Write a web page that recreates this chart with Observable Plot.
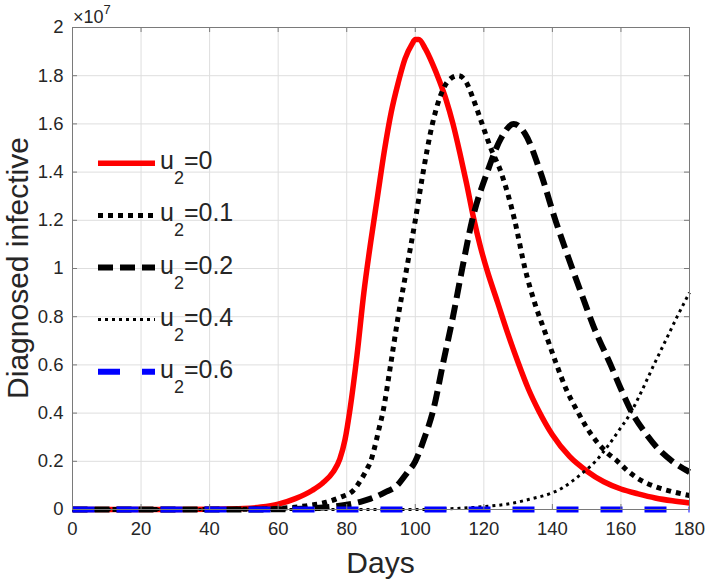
<!DOCTYPE html>
<html><head><meta charset="utf-8">
<script src="https://cdn.jsdelivr.net/npm/d3@7"></script>
<script src="https://cdn.jsdelivr.net/npm/@observablehq/plot@0.6"></script>
<style>body{margin:0;background:#fff} svg{display:block}</style>
</head><body><div id="chart"></div>
<script>
// Tick values and labels
const xTicks = [0, 20, 40, 60, 80, 100, 120, 140, 160, 180];
const yTicks = [0, 0.2, 0.4, 0.6, 0.8, 1, 1.2, 1.4, 1.6, 1.8, 2];
const yTickLabels = ["0", "0.2", "0.4", "0.6", "0.8", "1", "1.2", "1.4", "1.6", "1.8", "2"];

// Series names (u2 values)
const seriesU2 = ["0", "0.1", "0.2", "0.4", "0.6"];

// Diagnosed infective (×10^7)
const days0 = [0, 10, 20, 30, 40, 50, 55, 60, 65, 70, 73, 76, 78, 79.5, 81, 83, 85, 87, 89, 91, 93, 95, 97, 99, 100, 101, 103, 105, 107, 109, 111, 113, 115, 117, 119, 121, 124, 127, 130, 133, 136, 140, 145, 150, 155, 160, 165, 170, 175, 180];
const vals0 = [0, 0, 0, 0, 0.001, 0.004, 0.01, 0.022, 0.045, 0.08, 0.11, 0.155, 0.21, 0.29, 0.42, 0.64, 0.9, 1.11, 1.3, 1.49, 1.65, 1.77, 1.87, 1.93, 1.95, 1.95, 1.91, 1.85, 1.78, 1.7, 1.6, 1.48, 1.35, 1.21, 1.09, 0.99, 0.86, 0.73, 0.61, 0.5, 0.41, 0.31, 0.22, 0.16, 0.115, 0.085, 0.065, 0.048, 0.036, 0.027];

const days1 = [0, 10, 20, 30, 40, 50, 55, 62, 68, 74, 78, 82, 84, 86, 87, 88, 89.5, 90.5, 92.8, 95, 97.5, 100, 102.3, 105, 108, 110.5, 112.6, 115, 117, 119.5, 122, 125, 129, 132, 135, 138, 141, 144, 147.6, 150, 153, 156, 159, 162, 166, 170, 175, 180];
const vals1 = [0, 0, 0, 0, 0, 0.001, 0.002, 0.006, 0.015, 0.03, 0.05, 0.08, 0.12, 0.17, 0.2, 0.25, 0.34, 0.4, 0.6, 0.8, 1.0, 1.2, 1.4, 1.6, 1.74, 1.79, 1.8, 1.77, 1.7, 1.6, 1.5, 1.4, 1.2, 1.0, 0.85, 0.73, 0.61, 0.5, 0.4, 0.34, 0.28, 0.235, 0.2, 0.16, 0.12, 0.095, 0.074, 0.058];

const days2 = [0, 10, 20, 30, 40, 50, 60, 65, 70, 75, 80, 84, 87, 91, 94.7, 97.5, 100, 102.5, 105.2, 108.3, 111, 113.7, 116.6, 121, 125, 128.7, 132, 136.5, 140.9, 145.8, 149.2, 152, 157, 160, 163.3, 167, 171, 175, 180];
const vals2 = [0, 0, 0, 0, 0, 0, 0.001, 0.002, 0.005, 0.01, 0.02, 0.032, 0.045, 0.07, 0.1, 0.15, 0.2, 0.29, 0.41, 0.62, 0.8, 1.0, 1.2, 1.4, 1.54, 1.6, 1.56, 1.4, 1.2, 1.0, 0.867, 0.76, 0.6, 0.5, 0.4, 0.32, 0.25, 0.2, 0.155];

const days4 = [0, 20, 40, 60, 80, 100, 105, 113, 120, 128, 134, 139.4, 143, 146, 149.5, 152.6, 156, 159.5, 162.8, 166, 169.6, 173, 176.4, 180];
const vals4 = [0, 0, 0, 0, 0, 0, 0.001, 0.005, 0.012, 0.025, 0.045, 0.066, 0.09, 0.12, 0.16, 0.2, 0.26, 0.33, 0.4, 0.49, 0.6, 0.7, 0.8, 0.9];

const days6 = [0, 30, 60, 90, 120, 150, 180];
const vals6 = [0, 0, 0, 0, 0, 0, 0];

const seriesDays = [days0, days1, days2, days4, days6];
const seriesVals = [vals0, vals1, vals2, vals4, vals6];

// Styles per series
const styles = [
  {stroke: "#ff0000", strokeWidth: 5.5, dash: null},
  {stroke: "#000000", strokeWidth: 5, dash: "5,5"},
  {stroke: "#000000", strokeWidth: 6, dash: "15,7"},
  {stroke: "#000000", strokeWidth: 3, dash: "3,4"},
  {stroke: "#0000ff", strokeWidth: 6, dash: "22,22"}
];

const W = 708, H = 581, mL = 72, mR = 19, mT = 27, mB = 72;
const innerW = W - mL - mR, innerH = H - mT - mB;
const textColor = "#262626";
const font = "'Liberation Sans', Arial, Helvetica, sans-serif";

const lineMarks = seriesU2.map((u, i) => {
  const data = seriesDays[i].map((d, j) => ({day: d, v: seriesVals[i][j]}));
  const s = styles[i];
  return Plot.line(data, {
    x: "day", y: "v", curve: "monotone-x",
    stroke: s.stroke, strokeWidth: s.strokeWidth,
    strokeDasharray: s.dash, strokeLinecap: "butt", strokeLinejoin: "round"
  });
});

const axisStroke = "#7a7a7a";
const chart = Plot.plot({
  width: W, height: H,
  marginLeft: mL, marginRight: mR, marginTop: mT, marginBottom: mB,
  x: {domain: [0, 180]},
  y: {domain: [0, 2]},
  style: {fontFamily: font, color: textColor, background: "white", overflow: "visible"},
  marks: [
    Plot.gridX(xTicks, {stroke: "#dedede", strokeOpacity: 1}),
    Plot.gridY(yTicks, {stroke: "#dedede", strokeOpacity: 1}),
    ...lineMarks,
    Plot.frame({stroke: axisStroke, strokeWidth: 1}),
    Plot.tickX(xTicks, {x: d => d, insetTop: innerH - 5, stroke: axisStroke}),
    Plot.tickX(xTicks, {x: d => d, insetBottom: innerH - 5, stroke: axisStroke}),
    Plot.tickY(yTicks, {y: d => d, insetRight: innerW - 5, stroke: axisStroke}),
    Plot.tickY(yTicks, {y: d => d, insetLeft: innerW - 5, stroke: axisStroke}),
    Plot.axisX(xTicks, {tickSize: 0, tickPadding: 12, fontSize: 18.5, label: null, fill: textColor}),
    Plot.axisY(yTicks, {tickSize: 0, tickPadding: 9, fontSize: 18.5, label: null, fill: textColor,
      tickFormat: d => yTickLabels[yTicks.indexOf(d)]})
  ]
});
document.getElementById("chart").appendChild(chart);

const svg = d3.select(chart);
// axis titles
svg.append("text")
  .attr("x", mL + innerW / 2).attr("y", 573)
  .attr("text-anchor", "middle").attr("font-size", 30)
  .attr("font-family", font).attr("fill", textColor).text("Days");
svg.append("text")
  .attr("transform", `translate(28,${mT + innerH / 2}) rotate(-90)`)
  .attr("text-anchor", "middle").attr("font-size", 30)
  .attr("font-family", font).attr("fill", textColor).text("Diagnosed infective");
// exponent
const ex = svg.append("text").attr("x", mL + 1).attr("y", 22.5)
  .attr("text-anchor", "start")
  .attr("font-size", 18).attr("font-family", font).attr("fill", textColor);
ex.append("tspan").text("×10");
ex.append("tspan").attr("font-size", 13).attr("dy", -9).text("7");

// legend
const lg = svg.append("g").attr("text-anchor", "start");
seriesU2.forEach((u, i) => {
  const yRow = 163.3 + i * 52.1;
  const s = styles[i];
  lg.append("line").attr("x1", 98).attr("x2", 155).attr("y1", yRow).attr("y2", yRow)
    .attr("stroke", s.stroke).attr("stroke-width", s.strokeWidth)
    .attr("stroke-dasharray", s.dash).attr("stroke-linecap", "butt");
  const t = lg.append("text").attr("x", 160).attr("y", yRow + 6)
    .attr("text-anchor", "start")
    .attr("font-size", 25).attr("font-family", font).attr("fill", textColor);
  t.append("tspan").text("u");
  t.append("tspan").attr("font-size", 18).attr("dy", 15).text("2");
  t.append("tspan").attr("dy", -15).text("=" + u);
});
</script>
</body></html>
